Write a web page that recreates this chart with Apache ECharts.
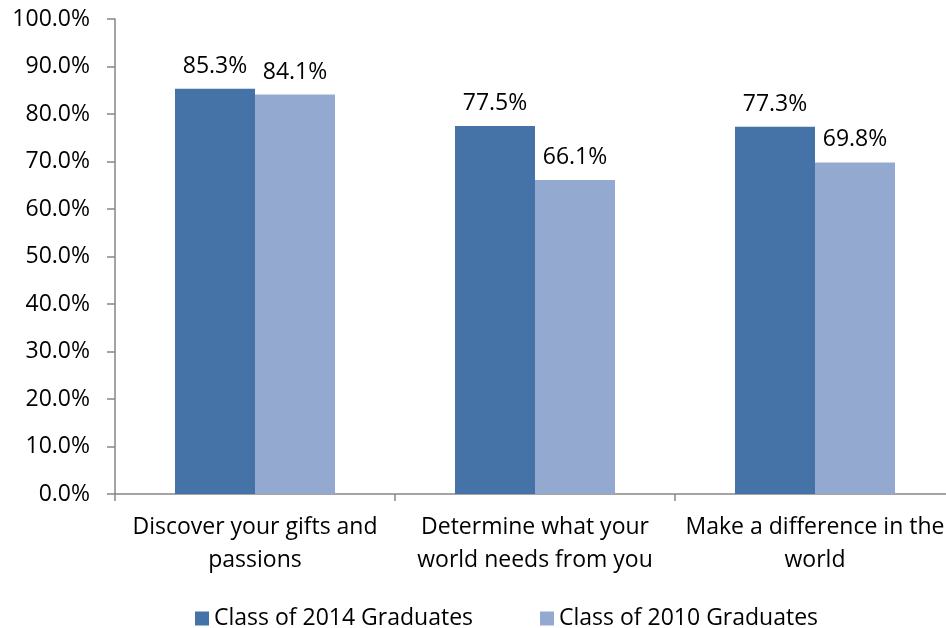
<!DOCTYPE html>
<html><head><meta charset="utf-8">
<script src="https://cdn.jsdelivr.net/npm/echarts@6/dist/echarts.min.js"></script>
<style>html,body{margin:0;padding:0;background:#fff;overflow:hidden}#c{width:955px;height:628px}</style>
</head><body><div id="c"></div>
<script>
var categories = ['Discover your gifts and\npassions', 'Determine what your\nworld needs from you', 'Make a difference in the\nworld'];
var class2014 = [85.3, 77.5, 77.3];
var class2010 = [84.1, 66.1, 69.8];
var seriesNames = ['Class of 2014 Graduates', 'Class of 2010 Graduates'];
var FONT = 'Open Sans';
var chart = echarts.init(document.getElementById('c'));
var lbl = {show:true, position:'top', distance:11, color:'#000', fontFamily:FONT, fontSize:23,
  formatter:function(p){return p.value.toFixed(1)+'%';}};
chart.setOption({
  animation:false,
  textStyle:{fontFamily:FONT},
  grid:{left:115, top:19, right:0, bottom:134, containLabel:false},
  legend:{left:190, top:602, itemWidth:14, itemHeight:14, itemGap:67, icon:'rect',
    textStyle:{fontFamily:FONT, fontSize:23, color:'#000'}, data:seriesNames},
  xAxis:{type:'category', data:categories,
    axisLine:{lineStyle:{color:'#868686', width:1.5}},
    axisTick:{show:true, length:7, lineStyle:{color:'#868686', width:1.5}},
    axisLabel:{color:'#000', fontFamily:FONT, fontSize:23, lineHeight:33, margin:17, interval:0}},
  yAxis:{type:'value', min:0, max:100, interval:10,
    axisLine:{show:true, lineStyle:{color:'#868686', width:1.5}},
    axisTick:{show:true, length:8, lineStyle:{color:'#868686', width:1.5}},
    splitLine:{show:false},
    axisLabel:{color:'#000', fontFamily:FONT, fontSize:23, margin:25,
      formatter:function(v){return v.toFixed(1)+'%';}}},
  series:[
    {name:seriesNames[0], type:'bar', data:class2014, barWidth:80, barGap:'0%', itemStyle:{color:'#4572A7'}, label:lbl},
    {name:seriesNames[1], type:'bar', data:class2010, barWidth:80, barGap:'0%', itemStyle:{color:'#93A9D0'}, label:lbl}
  ]
});
</script></body></html>
